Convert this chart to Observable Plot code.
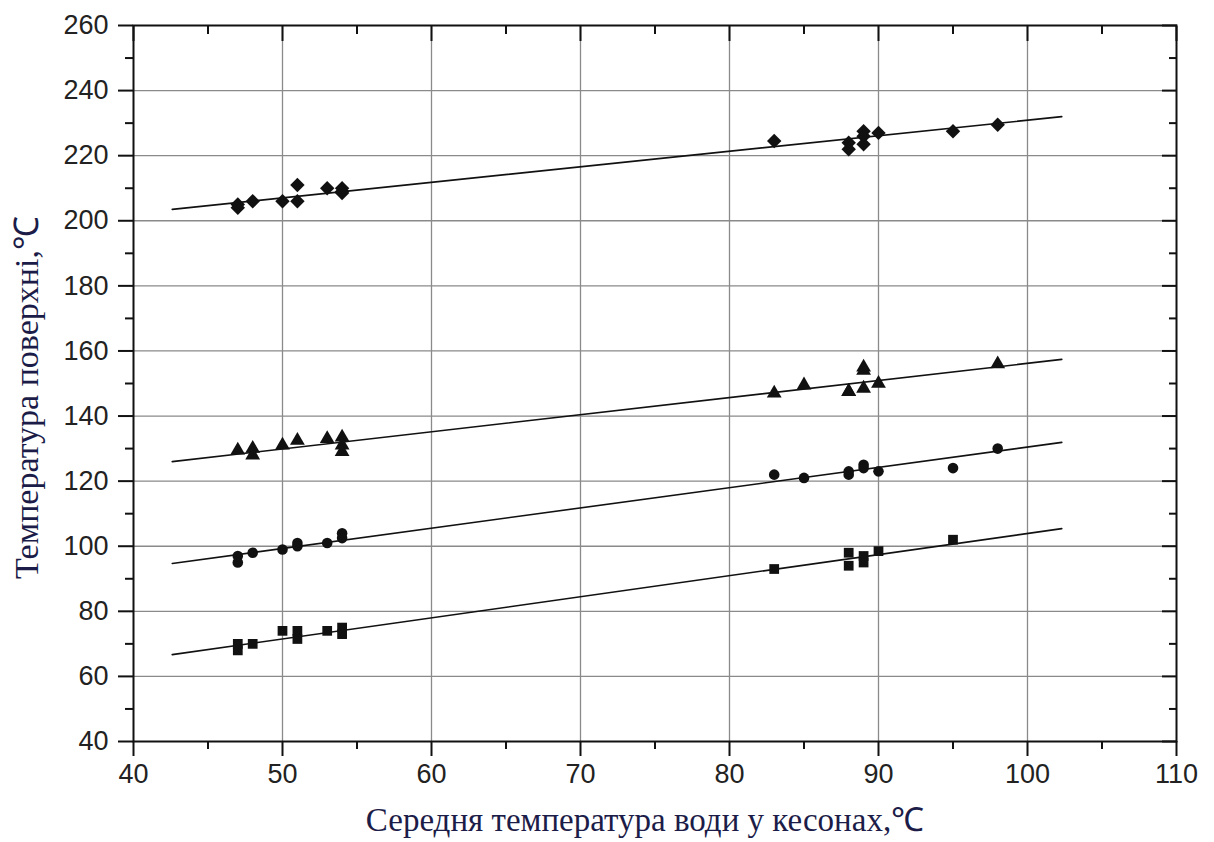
<!DOCTYPE html>
<html>
<head>
<meta charset="utf-8">
<script src="https://cdn.jsdelivr.net/npm/d3@7"></script>
<script src="https://cdn.jsdelivr.net/npm/@observablehq/plot@0.6"></script>
<style>
  html, body { margin: 0; padding: 0; background: #fff; }
  #chart svg { display: block; }
</style>
</head>
<body>
<div id="chart"></div>
<script>
// ---- data ----
const xTicks = [40, 50, 60, 70, 80, 90, 100, 110];
const yTicks = [40, 60, 80, 100, 120, 140, 160, 180, 200, 220, 240, 260];
const xMinorTicks = [45, 55, 65, 75, 85, 95, 105];
const yMinorTicks = [50, 70, 90, 110, 130, 150, 170, 190, 210, 230, 250];
const xGrid = [50, 60, 70, 80, 90, 100];
const yGrid = [60, 80, 100, 120, 140, 160, 180, 200, 220, 240];

const diamondX = [47, 47, 48, 50, 51, 51, 53, 54, 54, 54, 83, 88, 88, 89, 89, 89, 90, 95, 98];
const diamondY = [204, 205, 206, 206, 211, 206, 210, 210, 209, 208.5, 224.5, 224, 222, 227.5, 226, 223.5, 227, 227.5, 229.5];

const triangleX = [47, 48, 48, 50, 51, 53, 54, 54, 54, 83, 85, 88, 88, 89, 89, 89, 90, 98];
const triangleY = [129.5, 130, 128, 131, 132.5, 133, 133.5, 131, 129, 147, 149.5, 147.5, 147.5, 155, 154, 148.5, 150, 156];

const circleX = [47, 47, 48, 50, 51, 51, 53, 54, 54, 83, 85, 88, 88, 89, 89, 90, 95, 98];
const circleY = [97, 95, 98, 99, 101, 100, 101, 104, 102.5, 122, 121, 123, 122, 125, 124, 123, 124, 130];

const squareX = [47, 47, 48, 50, 51, 51, 53, 54, 54, 83, 88, 88, 89, 89, 90, 95];
const squareY = [70, 68, 70, 74, 74, 71.5, 74, 75, 73, 93, 98, 94, 97, 95, 98.5, 102];

// fitted straight lines (end points)
const fitX = [42.6, 102.3];
const fitDiamond = [203.5, 232.0];
const fitTriangle = [126.0, 157.4];
const fitCircle = [94.7, 131.9];
const fitSquare = [66.7, 105.4];

const xTitle = "Середня температура води у кесонах,℃";
const yTitle = "Температура поверхні,℃";

// ---- build tables ----
const pts = (xs, ys) => xs.map((x, i) => ({x, y: ys[i]}));
const fit = (ys) => fitX.map((x, i) => ({x, y: ys[i]}));

const tickFont = "'Liberation Sans', Arial, sans-serif";
const titleFont = "'Liberation Serif', 'Times New Roman', serif";
const titleColor = "#1c1c48";

const chart = Plot.plot({
  width: 1214,
  height: 842,
  marginLeft: 133,
  marginRight: 38,
  marginTop: 25,
  marginBottom: 101,
  style: {fontFamily: tickFont, background: "#fff", color: "#222"},
  x: {domain: [40, 110]},
  y: {domain: [40, 260]},
  marks: [
    Plot.gridX(xGrid, {stroke: "#8a8a8a", strokeOpacity: 1, strokeWidth: 1.3}),
    Plot.gridY(yGrid, {stroke: "#8a8a8a", strokeOpacity: 1, strokeWidth: 1.3}),

    Plot.line(fit(fitDiamond), {x: "x", y: "y", stroke: "#111", strokeWidth: 1.6}),
    Plot.line(fit(fitTriangle), {x: "x", y: "y", stroke: "#111", strokeWidth: 1.6}),
    Plot.line(fit(fitCircle), {x: "x", y: "y", stroke: "#111", strokeWidth: 1.6}),
    Plot.line(fit(fitSquare), {x: "x", y: "y", stroke: "#111", strokeWidth: 1.6}),

    Plot.dot(pts(diamondX, diamondY), {x: "x", y: "y", symbol: "diamond2", r: 6.5, fill: "#111", stroke: "none"}),
    Plot.dot(pts(triangleX, triangleY), {x: "x", y: "y", symbol: "triangle", r: 5.5, fill: "#111", stroke: "none"}),
    Plot.dot(pts(circleX, circleY), {x: "x", y: "y", symbol: "circle", r: 5.3, fill: "#111", stroke: "none"}),
    Plot.dot(pts(squareX, squareY), {x: "x", y: "y", symbol: "square", r: 5.5, fill: "#111", stroke: "none"}),

    Plot.frame({stroke: "#111", strokeWidth: 2}),

    // bottom / left axes with labels (outward ticks)
    Plot.axisX(xTicks, {anchor: "bottom", tickSize: 15, tickPadding: 7, fontSize: 27, strokeWidth: 2, stroke: "#111", fill: "#222", label: null}),
    Plot.axisX(xMinorTicks, {anchor: "bottom", tickSize: 8, text: null, strokeWidth: 2, stroke: "#111", label: null}),
    Plot.axisY(yTicks, {anchor: "left", tickSize: 15, tickPadding: 10, fontSize: 27, strokeWidth: 2, stroke: "#111", fill: "#222", label: null}),
    Plot.axisY(yMinorTicks, {anchor: "left", tickSize: 8, text: null, strokeWidth: 2, stroke: "#111", label: null}),

    // top / right mirrored ticks (inward)
    Plot.axisX(xTicks, {anchor: "top", tickSize: 15, dy: 15, text: null, strokeWidth: 2, stroke: "#111", label: null}),
    Plot.axisX(xMinorTicks, {anchor: "top", tickSize: 8, dy: 8, text: null, strokeWidth: 2, stroke: "#111", label: null}),
    Plot.axisY(yTicks, {anchor: "right", tickSize: 15, dx: -15, text: null, strokeWidth: 2, stroke: "#111", label: null}),
    Plot.axisY(yMinorTicks, {anchor: "right", tickSize: 8, dx: -8, text: null, strokeWidth: 2, stroke: "#111", label: null}),

    // axis titles
    Plot.text([xTitle], {frameAnchor: "bottom", textAnchor: "middle", dy: 79, dx: -10, lineAnchor: "middle", fontSize: 33, fontFamily: titleFont, fill: titleColor}),
    Plot.text([yTitle], {frameAnchor: "left", textAnchor: "middle", dx: -106, dy: 14, rotate: -90, lineAnchor: "middle", fontSize: 34, fontFamily: titleFont, fill: titleColor})
  ]
});

document.getElementById("chart").appendChild(chart);
</script>
</body>
</html>
